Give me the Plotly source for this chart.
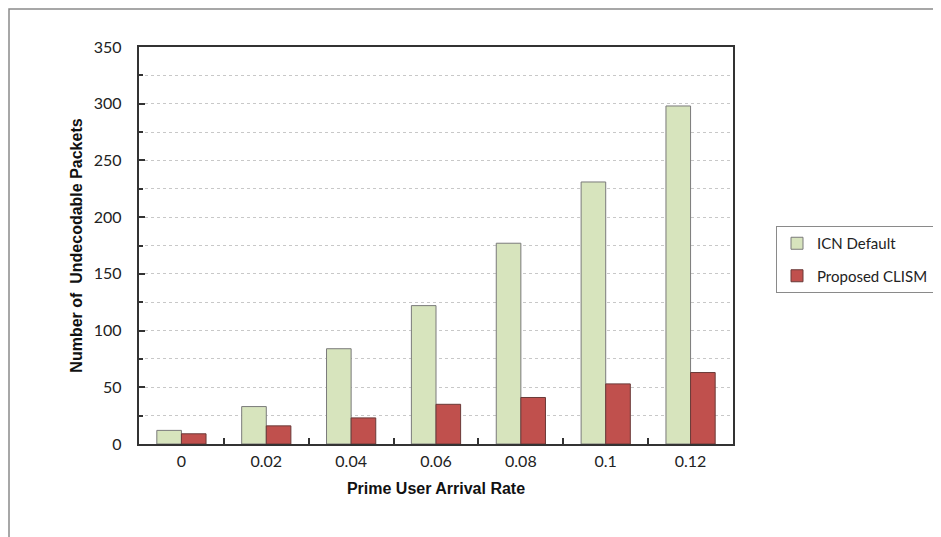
import plotly.graph_objects as go

categories = ["0", "0.02", "0.04", "0.06", "0.08", "0.1", "0.12"]
icn_default = [12, 33, 84, 122, 177, 231, 298]
proposed_clism = [9, 16, 23, 35, 41, 53, 63]

W, H = 933, 529
L, T, PW, PH = 131, 39, 594, 397

fig = go.Figure()
fig.add_trace(go.Bar(x=categories, y=icn_default, name="ICN Default",
                     marker=dict(color="#D7E4BD", line=dict(color="#7a7a7a", width=1)),
                     legendgroup="a"))
fig.add_trace(go.Bar(x=categories, y=proposed_clism, name="Proposed CLISM",
                     marker=dict(color="#C0504D", line=dict(color="#6a3a38", width=1)),
                     legendgroup="b"))

fig.update_layout(
    width=W, height=H,
    margin=dict(l=L, r=W - L - PW, t=T, b=H - T - PH, autoexpand=False),
    paper_bgcolor="white", plot_bgcolor="white",
    barmode="group", bargap=0.42, bargroupgap=0,
    font=dict(family="Lato, sans-serif", size=16, color="#222"),
    legend=dict(x=(768 - L) / PW, y=(T + PH - 218) / PH, xanchor="left", yanchor="top",
                bordercolor="#8a8a8a", borderwidth=1,
                font=dict(family="Lato, sans-serif", size=15, color="#222"),
                tracegroupgap=10, traceorder="grouped"),
    shapes=[dict(type="rect", xref="paper", yref="paper",
                 x0=(1 - L) / PW, x1=(W + 20 - L) / PW,
                 y0=(T + PH - H - 20) / PH, y1=(T + PH - 1) / PH,
                 line=dict(color="#8a8a8a", width=1.5), layer="below")],
)
fig.update_xaxes(
    type="category", range=[-0.5, 6.5], tickson="boundaries", ticks="inside", ticklen=6,
    tickcolor="#333", tickwidth=1.5,
    showline=True, mirror=True, linecolor="#333", linewidth=1.8,
    showgrid=False, automargin=False, ticklabelstandoff=2,
    tickfont=dict(family="Lato, sans-serif", size=16, color="#222"),
    title=dict(text="<b>Prime User Arrival Rate</b>",
               font=dict(family="Liberation Sans, Arial, sans-serif", size=16, color="#111"),
               standoff=14),
)
fig.update_yaxes(
    range=[0, 350], dtick=50, ticks="inside", ticklen=6, tickcolor="#333", tickwidth=1.5,
    showline=True, mirror=True, linecolor="#333", linewidth=1.8,
    showgrid=True, gridcolor="#c8c8c8", griddash="dot", gridwidth=1,
    minor=dict(dtick=25, showgrid=True, gridcolor="#c8c8c8", griddash="dot",
               ticks="inside", ticklen=4, tickcolor="#333"),
    zeroline=False, automargin=False, ticksuffix="\u00a0\u00a0\u00a0",
    tickfont=dict(family="Lato, sans-serif", size=16, color="#222"),
    title=dict(text="<b>Number of\u00a0 Undecodable Packets</b>",
               font=dict(family="Liberation Sans, Arial, sans-serif", size=16, color="#111"),
               standoff=7),
)

fig.write_html("out.html")
